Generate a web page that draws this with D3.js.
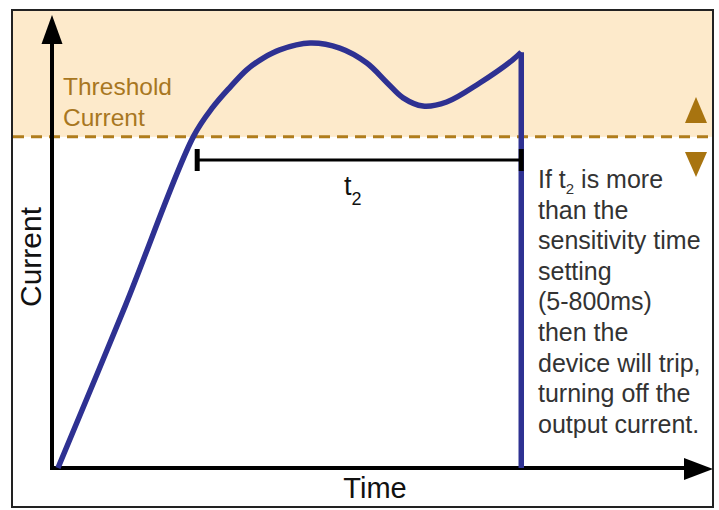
<!DOCTYPE html>
<html>
<head>
<meta charset="utf-8">
<title>Threshold current trip</title>
<script src="https://cdn.jsdelivr.net/npm/d3@7"></script>
<style>
  body { margin: 0; background: #fff; }
  text { font-family: "Liberation Sans", Arial, sans-serif; }
</style>
</head>
<body>
<div id="chart"></div>
<script>
// current trace (time, current in arbitrary units 0..100)
var traceTime    = [0.9, 11.1, 21.4, 24.4, 27.0, 29.5, 32.0, 34.5, 39.1, 43.6, 47.7, 50.8, 53.2, 56.2, 59.8, 64.8, 69.8, 71.1];
var traceCurrent = [0,   35.8, 73.1, 79.7, 84.1, 87.9, 90.5, 92.3, 93.8, 92.7, 89.4, 85.0, 81.7, 79.9, 80.8, 85.0, 90.1, 91.8];
var threshold = 73.1;
var t2Start = 22.0, t2End = 71.1;
var noteLines = ["If t|2| is more", "than the", "sensitivity time", "setting", "(5-800ms)", "then the", "device will trip,", "turning off the", "output current."];

var W = 719, H = 510;
var x = d3.scaleLinear().domain([0, 100]).range([52, 712]);
var y = d3.scaleLinear().domain([0, 100]).range([468, 15]);

var svg = d3.select("#chart").append("svg")
    .attr("width", W).attr("height", H);

var gold = "#b07d1c";
var blue = "#2e3192";

// shaded band above threshold
svg.append("rect")
    .attr("x", 12).attr("y", 10)
    .attr("width", 701).attr("height", y(threshold) - 10)
    .attr("fill", "#fdeacb");

// outer frame
svg.append("rect")
    .attr("x", 12).attr("y", 10)
    .attr("width", 701).attr("height", 497)
    .attr("fill", "none").attr("stroke", "#222").attr("stroke-width", 2);

// threshold dashed line
svg.append("line")
    .attr("x1", 13).attr("x2", 712)
    .attr("y1", y(threshold)).attr("y2", y(threshold))
    .attr("stroke", gold).attr("stroke-width", 3)
    .attr("stroke-dasharray", "11,7");

svg.append("text").attr("x", 63).attr("y", 95)
    .attr("font-size", 24.5).attr("fill", "#a8771f").text("Threshold");
svg.append("text").attr("x", 63).attr("y", 126)
    .attr("font-size", 24.5).attr("fill", "#a8771f").text("Current");

// up / down triangles
svg.append("path").attr("d", "M696,97 L707,123 L685,123 Z").attr("fill", "#a87410");
svg.append("path").attr("d", "M685,152 L707,152 L696,177 Z").attr("fill", "#a87410");

// axes
svg.append("line").attr("x1", x(0)).attr("x2", x(0)).attr("y1", y(0) + 2).attr("y2", 40)
    .attr("stroke", "#000").attr("stroke-width", 4);
svg.append("path").attr("d", "M52,15 L62.5,44 L41.5,44 Z").attr("fill", "#000");
svg.append("line").attr("x1", x(0) - 2).attr("x2", 688).attr("y1", y(0)).attr("y2", y(0))
    .attr("stroke", "#000").attr("stroke-width", 4);
svg.append("path").attr("d", "M713,469 L684,458 L684,480 Z").attr("fill", "#000");

svg.append("text").attr("x", 375).attr("y", 498)
    .attr("text-anchor", "middle").attr("font-size", 29).attr("fill", "#111").text("Time");
svg.append("text").attr("transform", "translate(41,257) rotate(-90)")
    .attr("text-anchor", "middle").attr("font-size", 30).attr("fill", "#111").text("Current");

// the trace
var pts = traceTime.map(function(t, i) { return { t: t, c: traceCurrent[i] }; });
var line = d3.line()
    .x(function(d) { return x(d.t); })
    .y(function(d) { return y(d.c); })
    .curve(d3.curveCatmullRom.alpha(0.5));
svg.append("path").datum(pts)
    .attr("d", line)
    .attr("fill", "none").attr("stroke", blue).attr("stroke-width", 5.5)
    .attr("stroke-linejoin", "round");

var last = pts[pts.length - 1];
svg.append("path").datum([last, { t: last.t, c: 0 }])
    .attr("d", d3.line().x(function(d) { return x(d.t); }).y(function(d) { return y(d.c); }))
    .attr("fill", "none").attr("stroke", blue).attr("stroke-width", 5.5)
    .attr("stroke-linejoin", "miter");

// t2 bracket
var by = 160;
svg.append("line").attr("x1", x(t2Start)).attr("x2", x(t2End)).attr("y1", by).attr("y2", by)
    .attr("stroke", "#000").attr("stroke-width", 3);
[t2Start, t2End].forEach(function(t) {
    svg.append("line").attr("x1", x(t)).attr("x2", x(t)).attr("y1", by - 11).attr("y2", by + 11)
        .attr("stroke", "#000").attr("stroke-width", 5);
});
var t2 = svg.append("text").attr("x", 344).attr("y", 195).attr("font-size", 27).attr("fill", "#111");
t2.append("tspan").text("t");
t2.append("tspan").attr("dy", 10).attr("font-size", 18).text("2");

// note on the right
noteLines.forEach(function(s, i) {
    var tx = svg.append("text").attr("x", 538).attr("y", 188 + i * 30.6)
        .attr("font-size", 25).attr("fill", "#333");
    var parts = s.split("|");
    if (parts.length === 3) {
        tx.append("tspan").text(parts[0]);
        tx.append("tspan").attr("dy", 6).attr("font-size", 15).text(parts[1]);
        tx.append("tspan").attr("dy", -6).text(parts[2]);
    } else {
        tx.text(s);
    }
});
</script>
</body>
</html>
